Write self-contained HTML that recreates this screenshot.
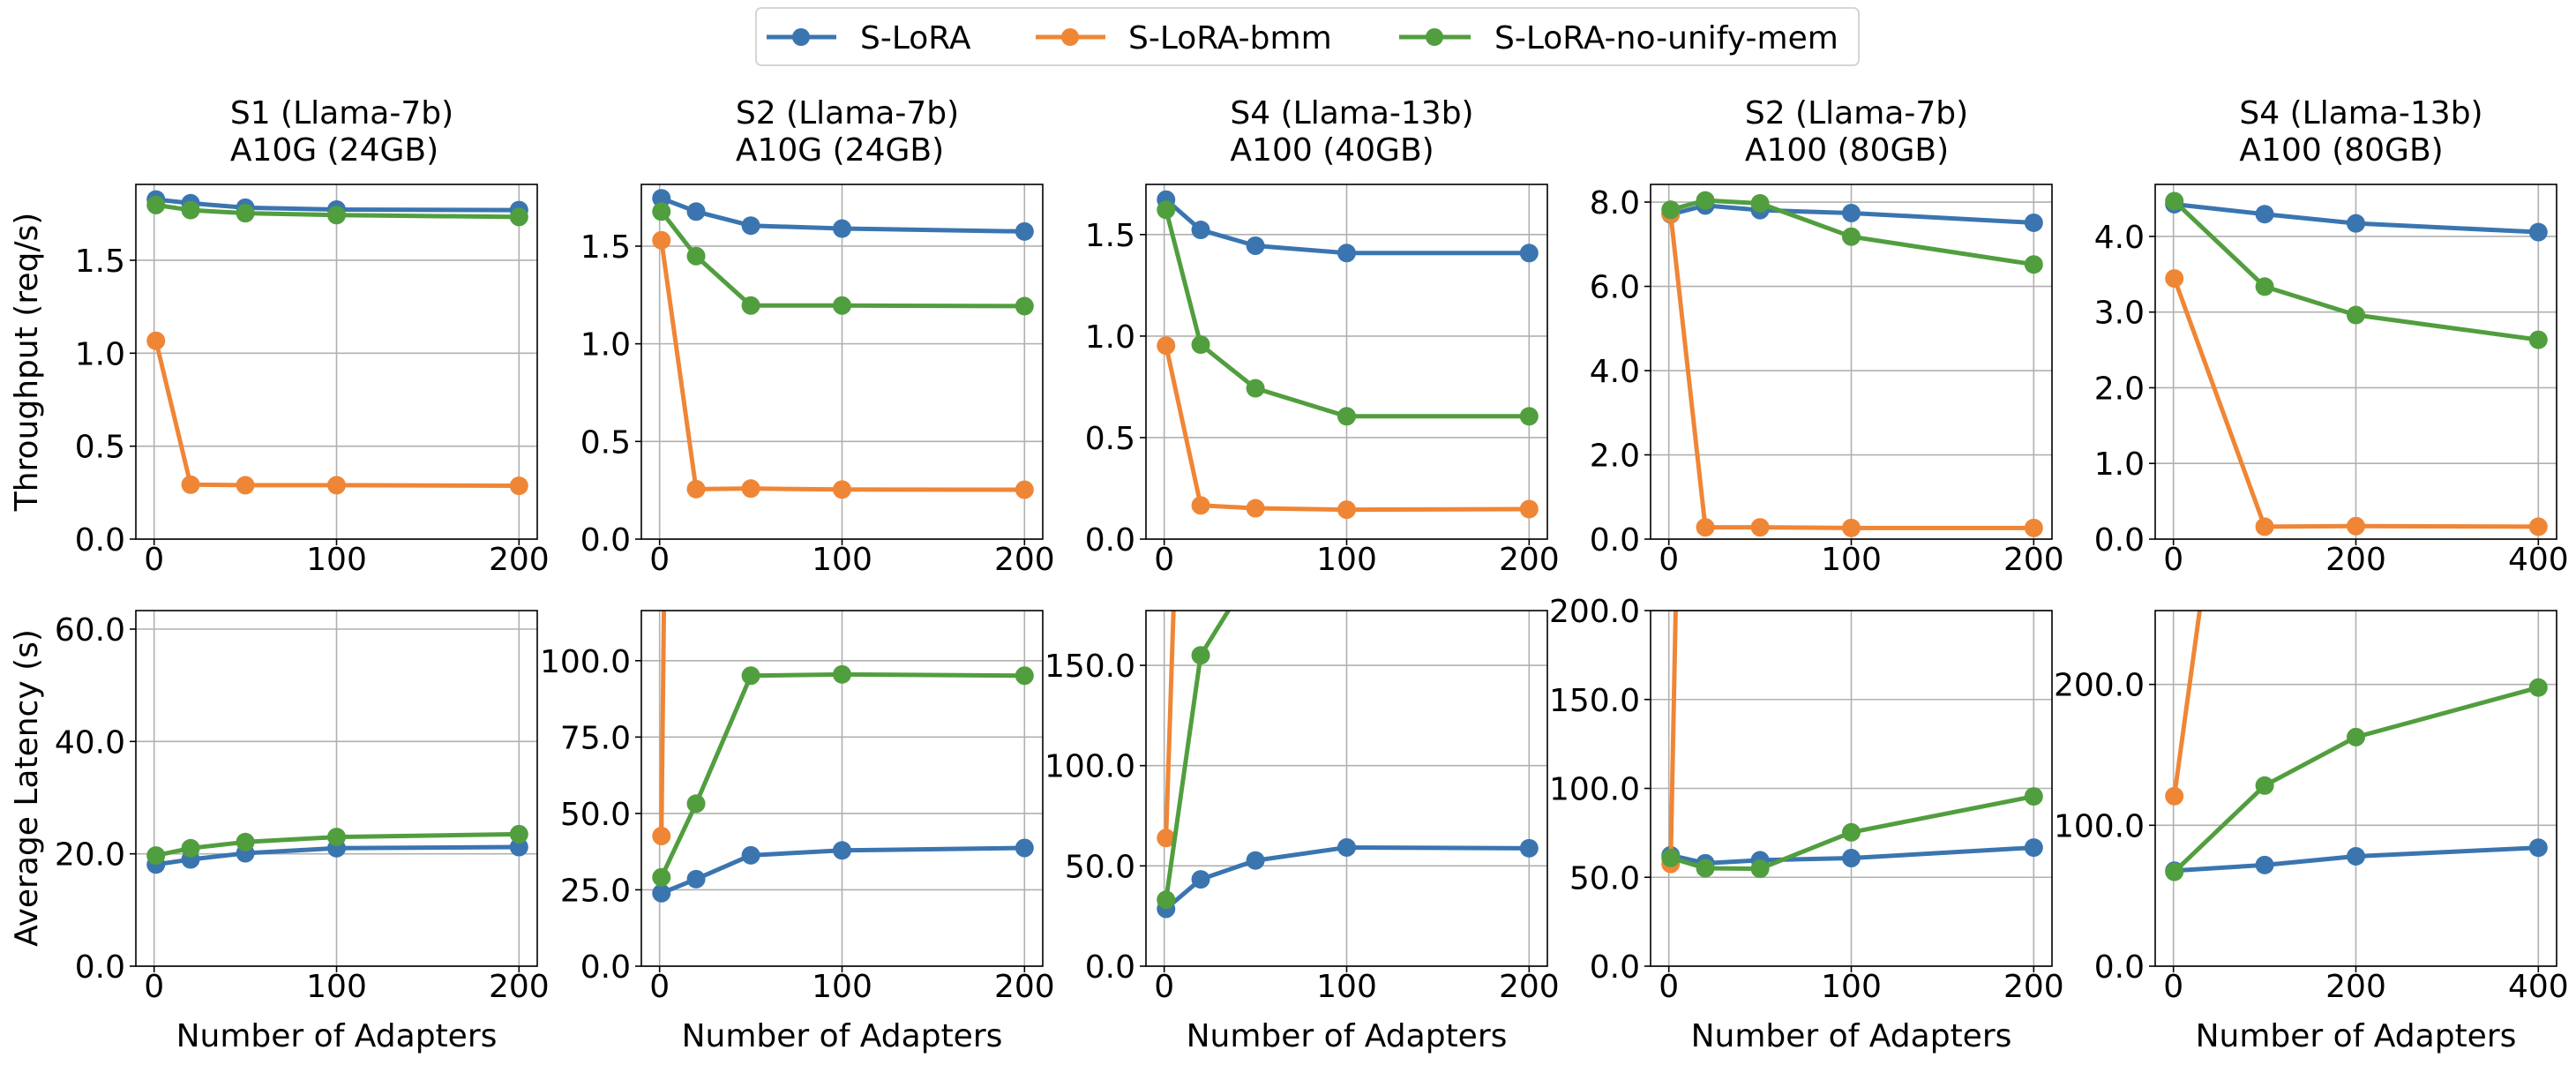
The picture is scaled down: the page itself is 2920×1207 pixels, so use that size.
<!DOCTYPE html>
<html><head><meta charset="utf-8"><style>
html,body{margin:0;padding:0;background:#fff;}
svg text{font-family:"DejaVu Sans","Liberation Sans",sans-serif;fill:#000;}
</style></head><body>
<svg id="chart" xmlns="http://www.w3.org/2000/svg" width="2920" height="1202" viewBox="0 0 2920 1202">
<rect width="2920" height="1202" fill="#fff"/>
<g>
<rect x="857" y="9" width="1250" height="65" rx="6" fill="#fff" stroke="#d6d6d6" stroke-width="2"/>
<g><line x1="869" y1="42" x2="948" y2="42" stroke="#3a75b0" stroke-width="5"/><circle cx="908" cy="42" r="10" fill="#3a75b0"/><text x="975" y="55" font-size="36">S-LoRA</text></g>
<g><line x1="1174" y1="42" x2="1253" y2="42" stroke="#ef8636" stroke-width="5"/><circle cx="1213" cy="42" r="10" fill="#ef8636"/><text x="1279" y="55" font-size="36">S-LoRA-bmm</text></g>
<g><line x1="1586" y1="42" x2="1667" y2="42" stroke="#519e3e" stroke-width="5"/><circle cx="1626" cy="42" r="10" fill="#519e3e"/><text x="1694" y="55" font-size="36">S-LoRA-no-unify-mem</text></g>
</g>
<text transform="translate(42,410) rotate(-90)" text-anchor="middle" font-size="36">Throughput (req/s)</text>
<text transform="translate(42,893) rotate(-90)" text-anchor="middle" font-size="36">Average Latency (s)</text>
</svg>
<script>
const titles1 = ["S1 (Llama-7b)","S2 (Llama-7b)","S4 (Llama-13b)","S2 (Llama-7b)","S4 (Llama-13b)"];
const titles2 = ["A10G (24GB)","A10G (24GB)","A100 (40GB)","A100 (80GB)","A100 (80GB)"];
const xs = [[1,20,50,100,200],[1,20,50,100,200],[1,20,50,100,200],[1,20,50,100,200],[1,100,200,400]];
const xTicks = [[0,100,200],[0,100,200],[0,100,200],[0,100,200],[0,200,400]];
const xMax = [200,200,200,200,400];
// throughput
const thrLora = [[1.827,1.807,1.783,1.773,1.770],[1.745,1.677,1.605,1.590,1.575],[1.672,1.523,1.445,1.409,1.409],[7.71,7.92,7.81,7.74,7.51],[4.425,4.294,4.172,4.057]];
const thrBmm = [[1.067,0.293,0.290,0.290,0.287],[1.530,0.256,0.259,0.254,0.253],[0.953,0.166,0.152,0.145,0.148],[7.72,0.28,0.28,0.265,0.265],[3.444,0.164,0.172,0.164]];
const thrNoUnify = [[1.797,1.770,1.753,1.743,1.733],[1.677,1.449,1.196,1.196,1.193],[1.622,0.958,0.743,0.605,0.605],[7.82,8.04,7.97,7.18,6.52],[4.466,3.337,2.961,2.634]];
const thrYMax = [1.908,1.816,1.747,8.42,4.687];
const thrTicks = [[0,0.5,1.0,1.5],[0,0.5,1.0,1.5],[0,0.5,1.0,1.5],[0,2,4,6,8],[0,1,2,3,4]];
// latency
const latLora = [[18.1,19.0,20.1,21.0,21.2],[23.9,28.5,36.3,37.9,38.7],[28.6,43.3,52.7,59.2,58.8],[62.4,57.9,59.6,60.8,66.7],[67.8,71.8,78.0,84.1]];
const latBmm = [[300,900,1000,1100,1200],[42.6,1074,1100,1150,1200],[63.9,590,650,700,750],[57.5,1045,1100,1150,1200],[120.7,590,650,700]];
const latNoUnify = [[19.7,21.0,22.1,23.0,23.5],[29.1,53.2,95.1,95.5,95.1],[33.1,155,199,250,300],[60.9,55.1,54.8,75.3,95.5],[67.0,128.2,162.6,197.8]];
const latYMax = [63.3,116.4,177.3,200,252.4];
const latTicks = [[0,20,40,60],[0,25,50,75,100],[0,50,100,150],[0,50,100,150,200],[0,100,200]];

const NS = "http://www.w3.org/2000/svg";
const svg = document.getElementById("chart");
const panelLeft = [154,727,1299,1871,2443];
const PW = 455;
const rows = [{top:209,bottom:611},{top:692,bottom:1095}];
const colors = {lora:"#3a75b0",bmm:"#ef8636",nounify:"#519e3e"};

function mk(tag, attrs, parent){
  const e = document.createElementNS(NS, tag);
  for (const k in attrs) e.setAttribute(k, attrs[k]);
  (parent||svg).appendChild(e);
  return e;
}

function drawPanel(p, r, series, yMax, yTicks, kind){
  const L = panelLeft[p], R = L + PW, T = rows[r].top, B = rows[r].bottom;
  const xm = xMax[p], x0 = -0.05*xm, x1 = 1.05*xm;
  const sx = v => L + (v - x0)/(x1 - x0)*PW;
  const sy = v => B - v/yMax*(B - T);
  const g = mk("g", {});
  
  
  const cid = "clip" + p + "_" + r;
  const cp = mk("clipPath", {id: cid}, g);
  mk("rect", {x: L, y: T, width: PW, height: B - T}, cp);
  // grid
  xTicks[p].forEach(t => {
    const gl = mk("line", {x1: sx(t), x2: sx(t), y1: T, y2: B, stroke: "#b0b0b0", "stroke-width": 1.6}, g);
    
    
  });
  yTicks.forEach(t => {
    const gl = mk("line", {x1: L, x2: R, y1: sy(t), y2: sy(t), stroke: "#b0b0b0", "stroke-width": 1.6}, g);
    
    
  });
  // series
  const order = [["lora", series[0]], ["bmm", series[1]], ["nounify", series[2]]];
  order.forEach(([k, vals]) => {
    const sg = mk("g", {"clip-path": "url(#" + cid + ")"}, g);
    
    
    const pts = vals.map((v, i) => sx(xs[p][i]) + "," + sy(v)).join(" ");
    const pl = mk("polyline", {points: pts, fill: "none", stroke: colors[k], "stroke-width": 5, "stroke-linejoin": "round"}, sg);
    
    
    vals.forEach((v, i) => {
      const c = mk("circle", {cx: sx(xs[p][i]), cy: sy(v), r: 10.5, fill: colors[k]}, sg);
      
      
    });
  });
  // spines
  const fr = mk("rect", {x: L, y: T, width: PW, height: B - T, fill: "none", stroke: "#000", "stroke-width": 1.6}, g);
  
  
  // x ticks
  xTicks[p].forEach(t => {
    mk("line", {x1: sx(t), x2: sx(t), y1: B, y2: B + 7, stroke: "#000", "stroke-width": 1.6}, g);
    const tx = mk("text", {x: sx(t), y: B + 35, "text-anchor": "middle", "font-size": 36}, g);
    tx.textContent = String(t);
    
    
  });
  yTicks.forEach(t => {
    mk("line", {x1: L - 7, x2: L, y1: sy(t), y2: sy(t), stroke: "#000", "stroke-width": 1.6}, g);
    const tx = mk("text", {x: L - 12, y: sy(t) + 13, "text-anchor": "end", "font-size": 36}, g);
    tx.textContent = t.toFixed(1);
    
    
  });
  if (r === 0) {
    const t1 = mk("text", {x: 0, y: 140, "font-size": 36}, g);
    t1.textContent = titles1[p];
    
    
    const t2 = mk("text", {x: 0, y: 182, "font-size": 36}, g);
    t2.textContent = titles2[p];
    
    
    const w = Math.max(t1.getComputedTextLength(), t2.getComputedTextLength());
    const sxx = L + PW/2 - w/2 + 6;
    t1.setAttribute("x", sxx); t2.setAttribute("x", sxx);
  } else {
    const xl = mk("text", {x: L + PW/2, y: 1186, "text-anchor": "middle", "font-size": 36}, g);
    xl.textContent = "Number of Adapters";
    
    
  }
}

for (let p = 0; p < 5; p++) {
  drawPanel(p, 0, [thrLora[p], thrBmm[p], thrNoUnify[p]], thrYMax[p], thrTicks[p], "throughput");
  drawPanel(p, 1, [latLora[p], latBmm[p], latNoUnify[p]], latYMax[p], latTicks[p], "latency");
}
</script>
</body></html>
